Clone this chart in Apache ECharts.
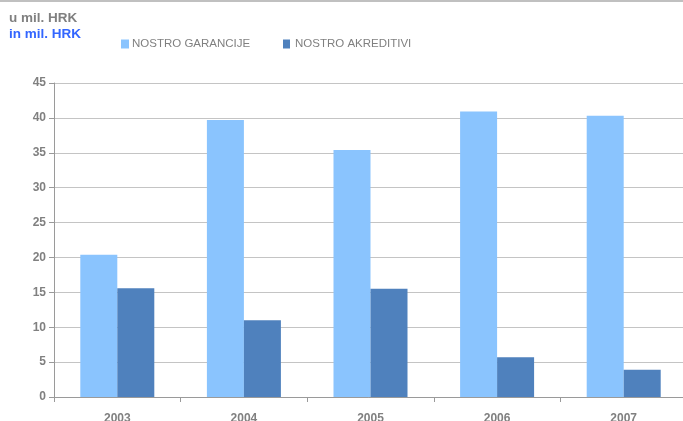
<!DOCTYPE html>
<html>
<head>
<meta charset="utf-8">
<script src="https://cdn.jsdelivr.net/npm/echarts@6/dist/echarts.min.js"></script>
<style>
  html, body { margin: 0; padding: 0; background: #fff; }
  #chart { width: 683px; height: 421px; }
</style>
</head>
<body>
<div id="chart"></div>
<script>
// Years on the category axis
const years = ['2003', '2004', '2005', '2006', '2007'];
// Values in millions of HRK
const nostroGarancije = [20.4, 39.7, 35.4, 40.9, 40.3];
const nostroAkreditivi = [15.6, 11.0, 15.5, 5.7, 3.9];
const seriesNames = ['NOSTRO GARANCIJE', 'NOSTRO AKREDITIVI'];
const unitLines = ['u mil. HRK', 'in mil. HRK'];

const gray = '#808080';
const font = '"Liberation Sans", Arial, sans-serif';

const chart = echarts.init(document.getElementById('chart'));
chart.setOption({
  animation: false,
  backgroundColor: '#ffffff',
  graphic: [
    { type: 'line', shape: { x1: 0, y1: 1, x2: 683, y2: 1 }, style: { stroke: '#c0c0c0', lineWidth: 2 } },
    { type: 'text', left: 9, top: 11, style: { text: unitLines[0], fill: gray, font: 'bold 13.5px ' + font } },
    { type: 'text', left: 9, top: 27, style: { text: unitLines[1], fill: '#3366ff', font: 'bold 13.5px ' + font } }
  ],
  legend: [
    {
      data: [seriesNames[0]], left: 121, top: 38, padding: 0, itemWidth: 8, itemHeight: 9, itemGap: 4,
      icon: 'rect', textStyle: { color: gray, fontFamily: font, fontSize: 11.5, padding: [0, 0, 0, -2] }
    },
    {
      data: [seriesNames[1]], left: 283, top: 38, padding: 0, itemWidth: 7, itemHeight: 9, itemGap: 4,
      icon: 'rect', textStyle: { color: gray, fontFamily: font, fontSize: 11.5, padding: [0, 0, 0, 0] }
    }
  ],
  grid: { left: 54, right: -4, top: 83, bottom: 24, containLabel: false, outerBoundsMode: 'none' },
  xAxis: {
    type: 'category',
    data: years,
    axisLine: { lineStyle: { color: '#9a9a9a', width: 1 } },
    axisTick: { show: true, length: 5, lineStyle: { color: '#9a9a9a' } },
    axisLabel: { color: gray, fontFamily: font, fontSize: 12, fontWeight: 'bold', margin: 16 }
  },
  yAxis: {
    type: 'value',
    min: 0, max: 45, interval: 5,
    axisLine: { show: true, lineStyle: { color: '#9a9a9a' } },
    axisTick: { show: true, length: 5, lineStyle: { color: '#9a9a9a' } },
    splitLine: { lineStyle: { color: '#c4c4c4' } },
    axisLabel: { color: gray, fontFamily: font, fontSize: 12, fontWeight: 'bold', margin: 8 }
  },
  series: [
    {
      name: seriesNames[0], type: 'bar', data: nostroGarancije,
      barWidth: 37, barGap: '0%', itemStyle: { color: '#8ac4fe' }
    },
    {
      name: seriesNames[1], type: 'bar', data: nostroAkreditivi,
      barWidth: 37, barGap: '0%', itemStyle: { color: '#4f81bd' }
    }
  ]
});
</script>
</body>
</html>
